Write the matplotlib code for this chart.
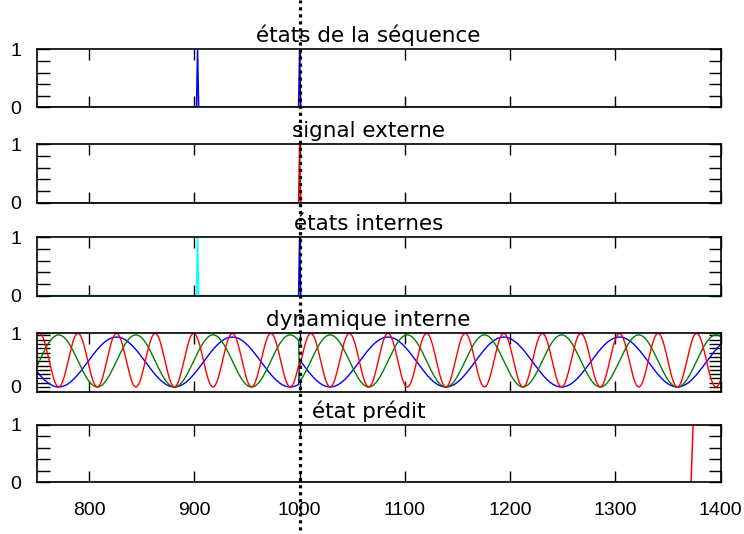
import numpy as np
import matplotlib
matplotlib.use('Agg')
import matplotlib.pyplot as plt
from matplotlib.ticker import MultipleLocator

x_min, x_max = 750, 1400
x_ticks = [800, 900, 1000, 1100, 1200, 1300, 1400]
reset_t = 1000

titles = ['états de la séquence', 'signal externe', 'états internes',
          'dynamique interne', 'état prédit']

# états de la séquence
seq_t = [750, 902, 903, 904, 999, 1000, 1001, 1400]
seq_v = [0, 0, 1, 0, 0, 1, 0, 0]

# signal externe
sig_t = [750, 999, 1000, 1001, 1400]
sig_v = [0, 0, 1, 0, 0]

# états internes
int_cyan_t = [750, 902, 903, 904, 1400]
int_cyan_v = [0, 0, 1, 0, 0]
int_blue_t = [750, 999, 1000, 1001, 1400]
int_blue_v = [0, 0, 1, 0, 0]

# dynamique interne : extrema, before / after the reset at 1000
blue_pre_t = [716, 771, 826, 881, 936, 991, 1046]
blue_pre_v = [0.93, 0, 0.93, 0, 0.93, 0, 0.93]
blue_post_t = [974, 1029, 1084, 1139, 1194, 1249, 1304, 1359, 1414]
blue_post_v = [0.93, 0, 0.93, 0, 0.93, 0, 0.93, 0, 0.93]

green_pre_t = [734.3, 771, 807.7, 844.3, 881, 917.7, 954.3, 991, 1027.7]
green_pre_v = [0, 0.97, 0, 0.97, 0, 0.97, 0, 0.97, 0]
green_post_t = [992.3, 1029, 1065.7, 1102.3, 1139, 1175.7, 1212.3, 1249,
                1285.7, 1322.3, 1359, 1395.7, 1432.3]
green_post_v = [0, 0.97, 0, 0.97, 0, 0.97, 0, 0.97, 0, 0.97, 0, 0.97, 0]

red_pre_t = [734.3, 752.7, 771, 789.3, 807.7, 826, 844.3, 862.7, 881, 899.3,
             917.7, 936, 954.3, 972.7, 991, 1009.3]
red_pre_v = [0, 1, 0, 1, 0, 1, 0, 1, 0, 1, 0, 1, 0, 1, 0, 1]
red_post_t = [992.3, 1010.7, 1029, 1047.3, 1065.7, 1084, 1102.3, 1120.7, 1139,
              1157.3, 1175.7, 1194, 1212.3, 1230.7, 1249, 1267.3, 1285.7, 1304,
              1322.3, 1340.7, 1359, 1377.3, 1395.7, 1414]
red_post_v = [0, 1, 0, 1, 0, 1, 0, 1, 0, 1, 0, 1, 0, 1, 0, 1, 0, 1, 0, 1, 0, 1, 0, 1]

# état prédit
pred_t = [750, 1372, 1374, 1400]
pred_v = [0, 0, 1, 1]


def smooth(key_t, key_v, t):
    # half-cosine shape between two successive extrema
    key_t = np.asarray(key_t, float)
    key_v = np.asarray(key_v, float)
    i = np.clip(np.searchsorted(key_t, t) - 1, 0, len(key_t) - 2)
    u = (t - key_t[i]) / (key_t[i + 1] - key_t[i])
    w = (1 - np.cos(np.pi * u)) / 2
    return key_v[i] + (key_v[i + 1] - key_v[i]) * w


W, H = 744, 534
fig = plt.figure(figsize=(W / 100, H / 100), dpi=100)

left_px, right_px = 36.6, 720.5
panels_px = [(49.3, 107.3), (144.3, 202.9), (237.3, 295.7), (333.3, 391.7), (424.5, 482.3)]

axes = []
for k, (top, bot) in enumerate(panels_px):
    ax = fig.add_axes([left_px / W, 1 - bot / H, (right_px - left_px) / W, (bot - top) / H])
    ax.set_xlim(x_min, x_max)
    ax.set_xticks(x_ticks)
    ax.set_yticks([0, 1])
    ax.set_yticklabels(['0', '1'])
    if k == 3:
        ax.set_ylim(-0.088, 1.0)
        ax.yaxis.set_minor_locator(MultipleLocator(0.08))
    else:
        ax.set_ylim(0, 1)
        ax.yaxis.set_minor_locator(MultipleLocator(0.2))
    ax.tick_params(axis='both', which='both', direction='in', top=True, right=True,
                   color='k', width=1)
    ax.tick_params(axis='x', which='major', length=8, pad=14,
                   labelfontfamily='Liberation Sans', labelsize=14)
    ax.tick_params(axis='y', which='both', length=9, pad=11,
                   labelfontfamily='Liberation Sans', labelsize=14)
    for s in ax.spines.values():
        s.set_linewidth(1.2)
    if k < 4:
        ax.tick_params(axis='x', labelbottom=False)
    h = bot - top
    ax.text(0.485, 1 + 7 / h, titles[k], transform=ax.transAxes, ha='center',
            va='baseline', fontsize=15.5, family='DejaVu Sans')
    axes.append(ax)

axes[0].plot(seq_t, seq_v, color='blue', lw=1.1)
axes[1].plot(sig_t, sig_v, color='red', lw=1.1)
axes[2].plot(int_blue_t, int_blue_v, color='blue', lw=1.1)
axes[2].plot(int_cyan_t, int_cyan_v, color='cyan', lw=1.1)

t_pre = np.arange(x_min, reset_t)
t_post = np.arange(reset_t, x_max + 1)
t_all = np.concatenate([t_pre, t_post])
for pre_t, pre_v, post_t, post_v, col in [
        (blue_pre_t, blue_pre_v, blue_post_t, blue_post_v, 'blue'),
        (green_pre_t, green_pre_v, green_post_t, green_post_v, 'green'),
        (red_pre_t, red_pre_v, red_post_t, red_post_v, 'red')]:
    v = np.concatenate([smooth(pre_t, pre_v, t_pre), smooth(post_t, post_v, t_post)])
    axes[3].plot(t_all, v, color=col, lw=1.0)

axes[4].plot(pred_t, pred_v, color='red', lw=1.1)

# dotted marker at the reset, across the whole figure
ov = fig.add_axes([left_px / W, 0, (right_px - left_px) / W, 1])
ov.set_xlim(x_min, x_max)
ov.set_ylim(0, 1)
ov.axis('off')
ov.axvline(reset_t, ymin=0.008, ymax=1.0, color='k', ls=(0, (1, 1.2)), lw=2.3)

fig.savefig('out.png', dpi=100)
